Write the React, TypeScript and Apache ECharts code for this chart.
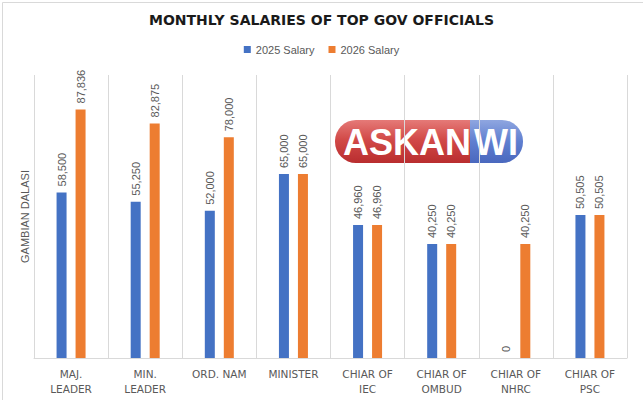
import { useEffect, useRef } from 'react';
import * as echarts from 'echarts';

const categories = [
  'MAJ.\nLEADER',
  'MIN.\nLEADER',
  'ORD. NAM',
  'MINISTER',
  'CHIAR OF\nIEC',
  'CHIAR OF\nOMBUD',
  'CHIAR OF\nNHRC',
  'CHIAR OF\nPSC'
];
const seriesNames = ['2025 Salary', '2026 Salary'];
const salary2025 = [58500, 55250, 52000, 65000, 46960, 40250, 0, 50505];
const salary2026 = [87836, 82875, 78000, 65000, 46960, 40250, 40250, 50505];
const colors = ['#4472C4', '#ED7D31'];

const FONT = '"Liberation Sans", Arial, sans-serif';
const WIDE = '"DejaVu Sans", sans-serif';
const GRAY = '#595959';

export default function App() {
  const chartRef = useRef<HTMLDivElement>(null);

  useEffect(() => {
    if (!chartRef.current) return;
    const chart = echarts.init(chartRef.current, null, { renderer: 'svg' });

    const label = {
      show: true,
      position: 'top' as const,
      rotate: 90,
      align: 'left' as const,
      verticalAlign: 'middle' as const,
      distance: 6,
      color: GRAY,
      fontSize: 11,
      fontFamily: FONT,
      formatter: (p: any) => Number(p.value).toLocaleString('en-US')
    };

    const option: echarts.EChartsOption = {
      animation: false,
      backgroundColor: '#ffffff',
      title: {
        text: 'MONTHLY SALARIES OF TOP GOV OFFICIALS',
        left: 'center',
        top: 8,
        textStyle: {
          fontSize: 14,
          fontWeight: 'bold',
          color: '#1a1a1a',
          fontFamily: WIDE
        }
      },
      legend: {
        data: seriesNames,
        top: 39,
        left: 'center',
        itemWidth: 7,
        itemHeight: 7,
        itemGap: 14,
        icon: 'rect',
        textStyle: { color: GRAY, fontSize: 11, fontFamily: FONT }
      },
      grid: { left: 34, right: 16, top: 75, bottom: 42 },
      xAxis: {
        type: 'category',
        data: categories,
        axisLine: { lineStyle: { color: '#d9d9d9' } },
        axisTick: { show: false },
        splitLine: { show: true, lineStyle: { color: '#d9d9d9' } },
        axisLabel: {
          interval: 0,
          color: GRAY,
          fontSize: 10.5,
          fontFamily: WIDE,
          lineHeight: 15,
          margin: 8
        }
      },
      yAxis: {
        type: 'value',
        min: 0,
        max: 100000,
        name: 'GAMBIAN DALASI',
        nameLocation: 'middle',
        nameGap: 4,
        nameRotate: 90,
        nameTextStyle: { color: GRAY, fontSize: 11, fontFamily: FONT },
        axisLabel: { show: false },
        axisLine: { show: false },
        axisTick: { show: false },
        splitLine: { show: false }
      },
      series: [
        {
          name: seriesNames[0],
          type: 'bar',
          data: salary2025,
          barWidth: 10,
          barGap: '90%',
          itemStyle: { color: colors[0] },
          label
        },
        {
          name: seriesNames[1],
          type: 'bar',
          data: salary2026,
          barWidth: 10,
          barGap: '90%',
          itemStyle: { color: colors[1] },
          label
        }
      ],
      graphic: [
        {
          type: 'rect',
          left: 0,
          top: 0,
          shape: { width: 642, height: 399 },
          style: { fill: 'none', stroke: '#d9d9d9', lineWidth: 1 },
          silent: true
        },
        {
          type: 'group',
          left: 335,
          top: 120,
          children: [
            {
              type: 'rect',
              x: 0,
              y: 0,
              shape: { width: 140, height: 43, r: [21, 0, 0, 21] },
              style: {
                fill: new echarts.graphic.LinearGradient(0, 0, 0, 1, [
                  { offset: 0, color: '#e57a78' },
                  { offset: 0.45, color: '#d24a48' },
                  { offset: 1, color: '#b92d2f' }
                ])
              }
            },
            {
              type: 'rect',
              x: 135,
              y: 0,
              shape: { width: 53, height: 43, r: [0, 21, 21, 0] },
              style: {
                fill: new echarts.graphic.LinearGradient(0, 0, 0, 1, [
                  { offset: 0, color: '#8fa6e0' },
                  { offset: 0.5, color: '#5f7fd0' },
                  { offset: 1, color: '#4a68be' }
                ])
              }
            },
            {
              type: 'text',
              x: 72,
              y: 22,
              style: {
                text: 'ASKAN',
                fill: '#ffffff',
                fontSize: 36,
                fontWeight: 'bold',
                fontFamily: FONT,
                align: 'center',
                verticalAlign: 'middle'
              }
            },
            {
              type: 'text',
              x: 161,
              y: 22,
              style: {
                text: 'WI',
                fill: '#ffffff',
                fontSize: 36,
                fontWeight: 'bold',
                fontFamily: FONT,
                align: 'center',
                verticalAlign: 'middle'
              }
            }
          ]
        }
      ]
    };

    chart.setOption(option);

    return () => {
      chart.dispose();
    };
  }, []);

  return (
    <div
      ref={chartRef}
      style={{ position: 'fixed', left: 0, top: 0, width: '643px', height: '400px' }}
    />
  );
}
